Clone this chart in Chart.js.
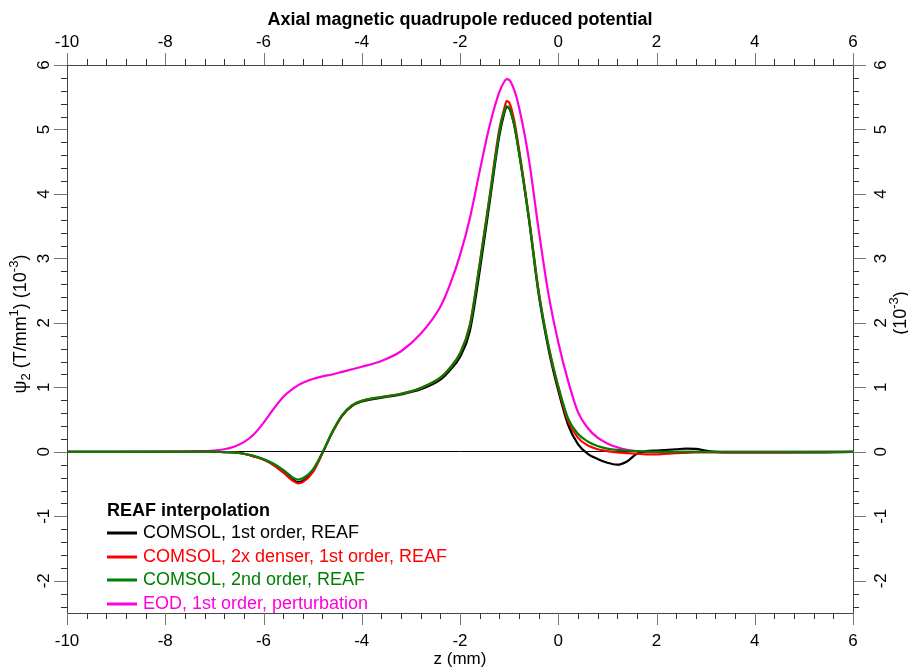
<!DOCTYPE html>
<html>
<head>
<meta charset="utf-8">
<script src="https://cdn.jsdelivr.net/npm/chart.js@4.4.1/dist/chart.umd.min.js"></script>
<style>
  html, body { margin: 0; padding: 0; background: #fff; }
  #wrap { width: 908px; height: 669px; }
</style>
</head>
<body>
<div id="wrap"><canvas id="psiChart" width="908" height="669"></canvas></div>
<script>
// z positions (mm) shared by all series
var zValues = [-10, -9, -8, -7.5, -7, -6.8, -6.6, -6.4, -6.2, -6.0, -5.8, -5.6, -5.4, -5.3, -5.2, -5.0,
    -4.8, -4.6, -4.4, -4.2, -4.0, -3.6, -3.2, -2.8, -2.4, -2.2, -2.0, -1.8, -1.6, -1.4, -1.2, -1.1,
    -1.05, -1.0, -0.9, -0.8, -0.6, -0.4, -0.2, 0, 0.2, 0.4, 0.6, 0.8, 1.0, 1.2, 1.4, 1.6, 1.8, 2.0,
    2.4, 2.6, 2.8, 3.0, 3.2, 3.5, 4, 5, 6];

var comsol1st = [0, 0, 0, 0, 0, -0.005, -0.01, -0.03, -0.07, -0.12, -0.2, -0.31, -0.43, -0.47, -0.45, -0.31,
    -0.02, 0.3, 0.56, 0.71, 0.78, 0.84, 0.89, 0.97, 1.12, 1.27, 1.47, 1.87, 2.8, 3.85, 4.9, 5.25,
    5.35, 5.33, 5.08, 4.65, 3.62, 2.45, 1.6, 0.95, 0.42, 0.12, -0.03, -0.11, -0.17, -0.2, -0.15, -0.03, 0.01, 0.02,
    0.04, 0.05, 0.045, 0.02, 0.0, -0.01, -0.01, -0.01, 0];

var comsolDenser = [0, 0, 0, 0, 0, -0.005, -0.01, -0.03, -0.07, -0.12, -0.2, -0.32, -0.45, -0.49, -0.47, -0.32,
    -0.02, 0.3, 0.56, 0.72, 0.79, 0.85, 0.9, 0.99, 1.15, 1.31, 1.53, 1.97, 2.92, 3.95, 5.0, 5.32,
    5.44, 5.42, 5.15, 4.7, 3.66, 2.5, 1.65, 1.0, 0.48, 0.22, 0.1, 0.04, 0.01, -0.01, -0.02, -0.03, -0.04, -0.04,
    -0.02, -0.015, -0.01, -0.01, -0.01, -0.01, -0.01, -0.005, 0];

var comsol2nd = [0, 0, 0, 0, 0, -0.005, -0.01, -0.03, -0.06, -0.11, -0.18, -0.28, -0.4, -0.43, -0.41, -0.28,
    -0.01, 0.31, 0.57, 0.72, 0.79, 0.85, 0.9, 0.99, 1.15, 1.3, 1.52, 1.95, 2.9, 3.92, 4.95, 5.28,
    5.36, 5.34, 5.08, 4.65, 3.64, 2.48, 1.65, 1.02, 0.52, 0.28, 0.16, 0.09, 0.05, 0.03, 0.02, 0.01, 0.005, 0,
    0, 0, 0, 0, 0, 0, 0, 0, 0];

var eodPerturbation = [0, 0, 0.002, 0.008, 0.02, 0.04, 0.08, 0.15, 0.27, 0.45, 0.66, 0.85, 0.98, 1.03, 1.07, 1.13,
    1.17, 1.2, 1.24, 1.28, 1.32, 1.41, 1.56, 1.83, 2.25, 2.6, 3.05, 3.62, 4.35, 5.05, 5.58, 5.74,
    5.78, 5.77, 5.62, 5.35, 4.55, 3.45, 2.45, 1.7, 1.1, 0.62, 0.37, 0.22, 0.13, 0.07, 0.03, 0.01, 0.0, 0,
    0, 0, 0, 0, 0, 0, 0, 0, 0];

var seriesLabels = ["COMSOL, 1st order, REAF", "COMSOL, 2x denser, 1st order, REAF", "COMSOL, 2nd order, REAF", "EOD, 1st order, perturbation"];
var seriesColors = ["#000000", "#ff0000", "#008000", "#ff00dd"];

var xTicks = [-10, -8, -6, -4, -2, 0, 2, 4, 6];
var yTicks = [-2, -1, 0, 1, 2, 3, 4, 5, 6];

var FONT = '"Liberation Sans", Arial, sans-serif';

function pts(ys) {
    return zValues.map(function (z, i) { return { x: z, y: ys[i] }; });
}

var allSeries = [comsol1st, comsolDenser, comsol2nd, eodPerturbation];
var drawOrder = [2, 1, 0, 3];

var datasets = allSeries.map(function (ys, i) {
    return {
        label: seriesLabels[i],
        data: pts(ys),
        borderColor: seriesColors[i],
        backgroundColor: seriesColors[i],
        borderWidth: 2.2,
        pointRadius: 0,
        showLine: true,
        fill: false,
        cubicInterpolationMode: 'monotone',
        order: drawOrder[i],
        xAxisID: 'x',
        yAxisID: 'y'
    };
});

function fixSize(w, h) {
    return function (scale) {
        if (w !== null) scale.width = w;
        if (h !== null) scale.height = h;
    };
}

function drawRich(ctx, parts, cx, cy) {
    // parts: [text, size, dy]
    var total = 0;
    parts.forEach(function (p) {
        ctx.font = p[1] + 'px ' + FONT;
        total += ctx.measureText(p[0]).width;
    });
    var x = cx - total / 2;
    parts.forEach(function (p) {
        ctx.font = p[1] + 'px ' + FONT;
        ctx.fillText(p[0], x, cy + p[2]);
        x += ctx.measureText(p[0]).width;
    });
}

var decorations = {
    id: 'decorations',
    afterDraw: function (chart) {
        var ctx = chart.ctx;
        var area = chart.chartArea;
        var sx = chart.scales.x, sy = chart.scales.y;
        ctx.save();

        // tick marks, all outward
        ctx.lineWidth = 1;
        var v, px, major;
        for (v = -10; v <= 6.001; v += 0.4) {
            px = Math.round(sx.getPixelForValue(v)) + 0.5;
            major = Math.abs(v / 2 - Math.round(v / 2)) < 1e-6;
            ctx.strokeStyle = major ? '#777' : '#333';
            var len = major ? 12 : 6;
            ctx.beginPath();
            ctx.moveTo(px, area.bottom); ctx.lineTo(px, area.bottom + len);
            ctx.moveTo(px, area.top); ctx.lineTo(px, area.top - len);
            ctx.stroke();
        }
        for (v = -2.4; v <= 6.001; v += 0.2) {
            var py = Math.round(sy.getPixelForValue(v)) + 0.5;
            major = Math.abs(v - Math.round(v)) < 1e-6;
            ctx.strokeStyle = major ? '#777' : '#333';
            var l2 = major ? 13 : 6;
            ctx.beginPath();
            ctx.moveTo(area.left, py); ctx.lineTo(area.left - l2, py);
            ctx.moveTo(area.right, py); ctx.lineTo(area.right + l2, py);
            ctx.stroke();
        }

        // x tick labels
        ctx.fillStyle = '#000';
        ctx.font = '17px ' + FONT;
        ctx.textAlign = 'center';
        ctx.textBaseline = 'middle';
        xTicks.forEach(function (t) {
            var p = sx.getPixelForValue(t);
            ctx.fillText(String(t), p, 641);
            ctx.fillText(String(t), p, 42);
        });

        // y tick labels, rotated
        yTicks.forEach(function (t) {
            var p = sy.getPixelForValue(t);
            [44, 881].forEach(function (lx) {
                ctx.save();
                ctx.translate(lx, p);
                ctx.rotate(-Math.PI / 2);
                ctx.fillText(String(t), 0, 0);
                ctx.restore();
            });
        });

        // titles
        ctx.font = 'bold 18px ' + FONT;
        ctx.fillText('Axial magnetic quadrupole reduced potential', (area.left + area.right) / 2, 20);
        ctx.font = '17px ' + FONT;
        ctx.fillText('z (mm)', (area.left + area.right) / 2, 659);

        ctx.textAlign = 'left';
        ctx.save();
        ctx.translate(21, 324);
        ctx.rotate(-Math.PI / 2);
        drawRich(ctx, [['\u03c8', 18, 0], ['2', 13, 5], [' (T/mm', 18, 0], ['1', 13, -7], [') (10', 18, 0], ['-3', 13, -7], [')', 18, 0]], 0, 0);
        ctx.restore();

        ctx.save();
        ctx.translate(901, 313);
        ctx.rotate(-Math.PI / 2);
        drawRich(ctx, [['(10', 18, 0], ['-3', 13, -7], [')', 18, 0]], 0, 0);
        ctx.restore();

        // legend
        ctx.font = 'bold 18px ' + FONT;
        ctx.fillStyle = '#000';
        ctx.fillText('REAF interpolation', 107, 511);
        ctx.font = '18px ' + FONT;
        var rows = [533, 557, 580, 604];
        seriesLabels.forEach(function (lab, i) {
            ctx.strokeStyle = seriesColors[i];
            ctx.lineWidth = 3;
            ctx.beginPath();
            ctx.moveTo(107, rows[i]); ctx.lineTo(137, rows[i]);
            ctx.stroke();
            ctx.fillStyle = seriesColors[i];
            ctx.fillText(lab, 143, rows[i]);
        });
        ctx.restore();
    }
};

new Chart(document.getElementById('psiChart'), {
    type: 'scatter',
    data: { datasets: datasets },
    options: {
        responsive: false,
        animation: false,
        devicePixelRatio: 1,
        layout: { padding: 0 },
        plugins: {
            legend: { display: false },
            title: { display: false },
            tooltip: { enabled: false }
        },
        scales: {
            x: {
                type: 'linear', position: 'bottom', min: -10, max: 6,
                ticks: { display: false, stepSize: 2 },
                grid: { display: false },
                border: { display: true, color: '#444', width: 1 },
                afterFit: fixSize(null, 56)
            },
            x2: {
                type: 'linear', position: 'top', min: -10, max: 6,
                ticks: { display: false, stepSize: 2 },
                grid: { display: false },
                border: { display: true, color: '#444', width: 1 },
                afterFit: fixSize(null, 65)
            },
            y: {
                type: 'linear', position: 'left', min: -2.5, max: 6,
                ticks: { display: false, stepSize: 1 },
                grid: {
                    display: true,
                    drawTicks: false,
                    color: function (c) { return c.tick && c.tick.value === 0 ? '#000' : 'rgba(0,0,0,0)'; },
                    lineWidth: 1
                },
                border: { display: true, color: '#444', width: 1 },
                afterFit: fixSize(67, null)
            },
            y2: {
                type: 'linear', position: 'right', min: -2.5, max: 6,
                ticks: { display: false, stepSize: 1 },
                grid: { display: false },
                border: { display: true, color: '#444', width: 1 },
                afterFit: fixSize(55, null)
            }
        }
    },
    plugins: [decorations]
});
</script>
</body>
</html>
